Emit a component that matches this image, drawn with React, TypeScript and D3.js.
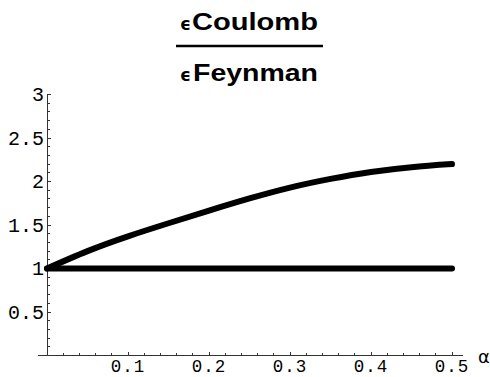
import React from "react";
import * as d3 from "d3";

const alphaValues = [0, 0.05, 0.1, 0.15, 0.2, 0.25, 0.3, 0.35, 0.4, 0.45, 0.5];
const coulombRatio = [1, 1.2, 1.37, 1.52, 1.665, 1.805, 1.93, 2.03, 2.11, 2.165, 2.2];
const feynmanAlpha = [0, 0.5];
const feynmanRatio = [1, 1];
const xTickValues = [0.1, 0.2, 0.3, 0.4, 0.5];
const xTickLabels = ["0.1", "0.2", "0.3", "0.4", "0.5"];
const yTickValues = [0.5, 1, 1.5, 2, 2.5, 3];
const yTickLabels = ["0.5", "1", "1.5", "2", "2.5", "3"];

const W = 490;
const H = 377;

export default function App() {
  const x = d3.scaleLinear().domain([0, 0.5]).range([47, 452]);
  const y = d3.scaleLinear().domain([0, 3]).range([355.5, 94.5]);

  const line = d3
    .line<[number, number]>()
    .x((d) => x(d[0]))
    .y((d) => y(d[1]))
    .curve(d3.curveNatural);

  const coulombPts: [number, number][] = alphaValues.map((a, i) => [a, coulombRatio[i]]);
  const feynPts: [number, number][] = feynmanAlpha.map((a, i) => [a, feynmanRatio[i]]);

  const xMinor = d3.range(1, 26).map((i) => i * 0.02).filter((v) => Math.abs(v * 10 - Math.round(v * 10)) > 1e-6);
  const yMinor = d3.range(1, 30).map((i) => i * 0.1).filter((v) => Math.abs(v * 2 - Math.round(v * 2)) > 1e-6);

  const tickFont = "'Liberation Mono', 'Courier New', monospace";
  const titleFont = "'Liberation Sans', Arial, sans-serif";
  const epsFont = "'DejaVu Sans', sans-serif";

  return (
    <svg
      width={W}
      height={H}
      style={{ position: "absolute", left: 0, top: 0, background: "#fff" }}
    >
      {/* title */}
      <text x={180} y={30} fontFamily={epsFont} fontWeight="bold" fontSize={17}>ϵ</text>
      <text x={192} y={30} fontFamily={titleFont} fontWeight="bold" fontSize={24} textLength={126} lengthAdjust="spacingAndGlyphs">Coulomb</text>
      <line x1={176} x2={323} y1={46} y2={46} stroke="#000" strokeWidth={2.5} />
      <text x={180} y={81} fontFamily={epsFont} fontWeight="bold" fontSize={17}>ϵ</text>
      <text x={193} y={81} fontFamily={titleFont} fontWeight="bold" fontSize={24} textLength={125} lengthAdjust="spacingAndGlyphs">Feynman</text>

      {/* axes */}
      <g stroke="#333" strokeWidth={1} shapeRendering="crispEdges">
        <line x1={x(0) - 9} x2={x(0.5) + 11} y1={y(0)} y2={y(0)} />
        <line x1={x(0)} x2={x(0)} y1={y(0)} y2={y(3)} />
        {xTickValues.map((v) => (
          <line key={"xt" + v} x1={x(v)} x2={x(v)} y1={y(0)} y2={y(0) - 4} />
        ))}
        {xMinor.map((v) => (
          <line key={"xm" + v} x1={x(v)} x2={x(v)} y1={y(0)} y2={y(0) - 2.5} />
        ))}
        {yTickValues.map((v) => (
          <line key={"yt" + v} x1={x(0)} x2={x(0) + 4} y1={y(v)} y2={y(v)} />
        ))}
        {yMinor.map((v) => (
          <line key={"ym" + v} x1={x(0)} x2={x(0) + 2.5} y1={y(v)} y2={y(v)} />
        ))}
      </g>

      {xTickValues.map((v, i) => (
        <text key={"xl" + v} x={x(v)} y={y(0) + 16} textAnchor="middle" fontFamily={tickFont} fontSize={17.5} letterSpacing={1} fill="#000">
          {xTickLabels[i]}
        </text>
      ))}
      {yTickValues.map((v, i) => (
        <text key={"yl" + v} x={x(0) - 3} y={y(v) + 6.5} textAnchor="end" fontFamily={tickFont} fontSize={20} fill="#000">
          {yTickLabels[i]}
        </text>
      ))}
      <text x={478} y={363} fontFamily={epsFont} fontSize={18} fill="#000">α</text>

      {/* curves */}
      <path d={line(feynPts) || ""} fill="none" stroke="#000" strokeWidth={6} strokeLinecap="round" />
      <path d={line(coulombPts) || ""} fill="none" stroke="#000" strokeWidth={6} strokeLinecap="round" strokeLinejoin="round" />
    </svg>
  );
}
